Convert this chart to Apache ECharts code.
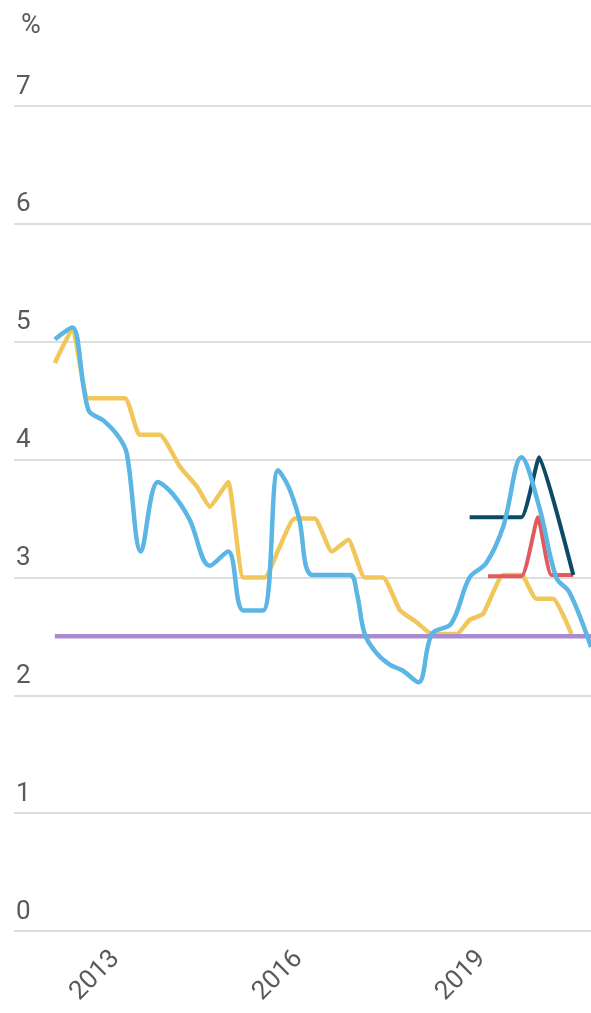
<!DOCTYPE html>
<html>
<head>
<meta charset="utf-8">
<script src="https://cdn.jsdelivr.net/npm/echarts@6/dist/echarts.min.js"></script>
<style>
html,body{margin:0;padding:0;background:#fff;}
#chart{width:591px;height:1013px;}
</style>
</head>
<body>
<div id="chart"></div>
<script>
// Decimal years (x) and values in % (y)
const xTickLabels = [2013, 2016, 2019];
const yTicks = [0, 1, 2, 3, 4, 5, 6, 7];

const blueYears  = [2012.00, 2012.15, 2012.29, 2012.55, 2012.80, 2013.05, 2013.18, 2013.41, 2013.69, 2013.93, 2014.21, 2014.54, 2014.84, 2015.09, 2015.41, 2015.66, 2015.83, 2016.00, 2016.23, 2016.84, 2016.95, 2017.08, 2017.27, 2017.49, 2017.70, 2017.96, 2018.18, 2018.50, 2018.80, 2019.07, 2019.35, 2019.65, 2019.94, 2020.22, 2020.44, 2020.79];
const blueValues = [5.02, 5.08, 5.12, 4.42, 4.33, 4.19, 4.05, 3.22, 3.81, 3.71, 3.49, 3.10, 3.22, 2.72, 2.72, 3.91, 3.77, 3.51, 3.02, 3.02, 2.87, 2.52, 2.36, 2.26, 2.21, 2.11, 2.52, 2.61, 3.00, 3.12, 3.43, 4.02, 3.60, 3.00, 2.87, 2.41];

const yellowYears  = [2012.00, 2012.29, 2012.55, 2013.15, 2013.39, 2013.72, 2014.05, 2014.33, 2014.54, 2014.84, 2015.09, 2015.44, 2015.66, 2015.93, 2016.26, 2016.54, 2016.81, 2017.08, 2017.38, 2017.66, 2017.93, 2018.18, 2018.59, 2018.80, 2019.02, 2019.35, 2019.65, 2019.89, 2020.17, 2020.47];
const yellowValues = [4.82, 5.11, 4.52, 4.52, 4.21, 4.21, 3.94, 3.77, 3.60, 3.81, 3.00, 3.00, 3.23, 3.50, 3.50, 3.22, 3.32, 3.00, 3.00, 2.72, 2.62, 2.52, 2.52, 2.64, 2.69, 3.02, 3.02, 2.82, 2.82, 2.52];

const navyYears  = [2018.80, 2019.65, 2019.94, 2020.50];
const navyValues = [3.51, 3.51, 4.02, 3.02];

const redYears  = [2019.10, 2019.65, 2019.92, 2020.14, 2020.50];
const redValues = [3.01, 3.01, 3.51, 3.02, 3.02];

const targetYears  = [2012.00, 2020.79];
const targetValues = [2.5, 2.5];

function zip(xs, ys) { return xs.map((x, i) => [x, ys[i]]); }

const chart = echarts.init(document.getElementById('chart'), null, {renderer: 'canvas'});
const fontFamily = 'Roboto, "Noto Sans", sans-serif';

chart.setOption({
  animation: false,
  backgroundColor: '#fff',
  title: {
    text: '%',
    left: 21,
    top: 13,
    padding: 0,
    textStyle: {fontFamily, fontSize: 27, fontWeight: 'normal', color: '#5a5a5a'}
  },
  grid: {left: 14, right: 0, top: 106, bottom: 82, containLabel: false},
  xAxis: {
    type: 'value',
    min: 2011.33,
    max: 2020.79,
    axisLine: {show: false},
    axisTick: {show: false},
    splitLine: {show: false},
    axisLabel: {
      customValues: xTickLabels,
      rotate: 45,
      margin: 24,
      fontFamily, fontSize: 26, color: '#5a5a5a',
      formatter: v => String(Math.round(v))
    }
  },
  yAxis: {
    type: 'value',
    min: 0, max: 7, interval: 1,
    axisLine: {show: false},
    axisTick: {show: false},
    splitLine: {lineStyle: {color: '#dedede', width: 2}},
    axisLabel: {
      inside: true,
      margin: 2,
      verticalAlign: 'bottom',
      padding: [0, 0, 6, 0],
      fontFamily, fontSize: 26, color: '#5a5a5a'
    }
  },
  series: [
    {type: 'line', data: zip(yellowYears, yellowValues), smooth: 0.15, showSymbol: false, lineStyle: {color: '#f1c75c', width: 4.5}, z: 2},
    {type: 'line', data: zip(targetYears, targetValues), showSymbol: false, lineStyle: {color: '#a88ccf', width: 4.5}, z: 3},
    {type: 'line', data: zip(redYears, redValues), smooth: 0.15, showSymbol: false, lineStyle: {color: '#e05a5e', width: 4}, z: 4},
    {type: 'line', data: zip(navyYears, navyValues), smooth: 0.12, showSymbol: false, lineStyle: {color: '#0d4a66', width: 4}, z: 5},
    {type: 'line', data: zip(blueYears, blueValues), smooth: 0.35, showSymbol: false, lineStyle: {color: '#5bb5e5', width: 4.5}, z: 6}
  ]
});
</script>
</body>
</html>
